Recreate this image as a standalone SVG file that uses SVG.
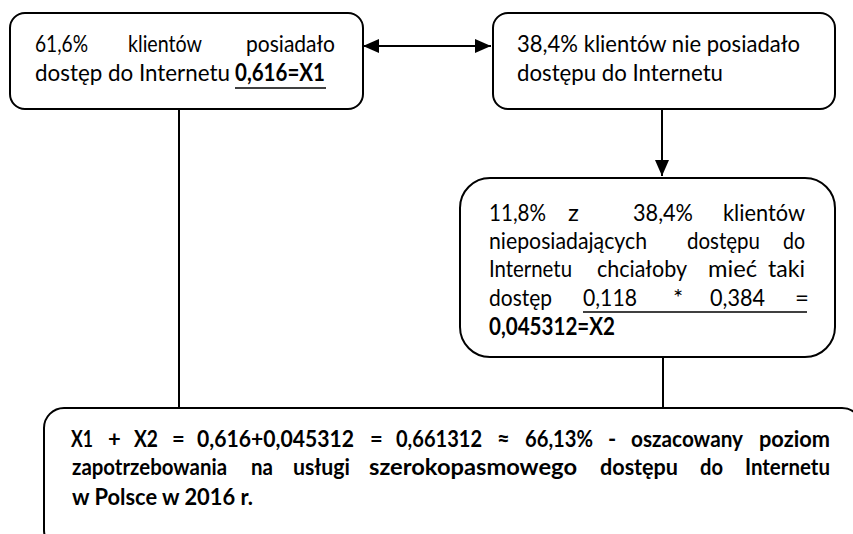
<svg xmlns="http://www.w3.org/2000/svg" width="853" height="534" viewBox="0 0 853 534">
<defs>
<style>
.box{fill:#fff;stroke:#000;stroke-width:2}
.t{font-family:Lato,"Liberation Sans",sans-serif;font-size:24px;fill:#000}
.b{font-family:Lato,"Liberation Sans",sans-serif;font-size:24px;font-weight:bold;fill:#000}
.bb{font-family:Lato,"Liberation Sans",sans-serif;font-size:22px;font-weight:bold;fill:#000}
.c{stroke:#000;stroke-width:2;fill:none}
.u{stroke:#000;stroke-width:1.6}
</style>
<marker id="ah" viewBox="0 0 16 14" refX="16" refY="7" markerWidth="16" markerHeight="14" markerUnits="userSpaceOnUse" orient="auto-start-reverse">
<path d="M0,0 L16,7 L0,14 Z" fill="#000"/>
</marker>
</defs>
<rect width="853" height="534" fill="#fff"/>
<g id="connectors">
<line class="c" x1="363" y1="46" x2="491" y2="46" marker-start="url(#ah)" marker-end="url(#ah)"/>
<line class="c" x1="662" y1="109" x2="662" y2="176" marker-end="url(#ah)"/>
<line class="c" x1="179" y1="109" x2="179" y2="408"/>
<line class="c" x1="663" y1="357" x2="663" y2="408"/>
</g>
<g id="node1">
<rect class="box" x="10" y="13" width="353" height="96" rx="15"/>
<text class="t" x="35" y="52" textLength="53" lengthAdjust="spacingAndGlyphs">61,6%</text>
<text class="t" x="128" y="52" textLength="74" lengthAdjust="spacingAndGlyphs">klientów</text>
<text class="t" x="246" y="52" textLength="89" lengthAdjust="spacingAndGlyphs">posiadało</text>
<text class="t" x="35" y="81" textLength="195" lengthAdjust="spacingAndGlyphs">dostęp do Internetu</text>
<text class="b" x="235" y="81" textLength="90" lengthAdjust="spacingAndGlyphs">0,616=X1</text>
<line class="u" x1="235" y1="88" x2="326" y2="88"/>
</g>
<g id="node2">
<rect class="box" x="493" y="13" width="342" height="96" rx="15"/>
<text class="t" x="517" y="52" textLength="283" lengthAdjust="spacingAndGlyphs">38,4% klientów nie posiadało</text>
<text class="t" x="517" y="81" textLength="206" lengthAdjust="spacingAndGlyphs">dostępu do Internetu</text>
</g>
<g id="node3">
<rect class="box" x="460" y="178" width="375" height="179" rx="30"/>
<text class="t" x="489" y="221" textLength="57" lengthAdjust="spacingAndGlyphs">11,8%</text>
<text class="t" x="568" y="221">z</text>
<text class="t" x="633" y="221" textLength="60" lengthAdjust="spacingAndGlyphs">38,4%</text>
<text class="t" x="723" y="221" textLength="82" lengthAdjust="spacingAndGlyphs">klientów</text>
<text class="t" x="489" y="249" textLength="158" lengthAdjust="spacingAndGlyphs">nieposiadających</text>
<text class="t" x="687" y="249" textLength="73" lengthAdjust="spacingAndGlyphs">dostępu</text>
<text class="t" x="783" y="249" textLength="22" lengthAdjust="spacingAndGlyphs">do</text>
<text class="t" x="489" y="277" textLength="83" lengthAdjust="spacingAndGlyphs">Internetu</text>
<text class="t" x="597" y="277" textLength="90" lengthAdjust="spacingAndGlyphs">chciałoby</text>
<text class="t" x="708" y="277" textLength="49" lengthAdjust="spacingAndGlyphs">mieć</text>
<text class="t" x="768" y="277" textLength="37" lengthAdjust="spacingAndGlyphs">taki</text>
<text class="t" x="489" y="306" textLength="63" lengthAdjust="spacingAndGlyphs">dostęp</text>
<text class="t" x="583" y="306" textLength="54" lengthAdjust="spacingAndGlyphs">0,118</text>
<text class="t" x="673" y="306">*</text>
<text class="t" x="710" y="306" textLength="55" lengthAdjust="spacingAndGlyphs">0,384</text>
<text class="t" x="795" y="306">=</text>
<line class="u" x1="583" y1="312" x2="807" y2="312"/>
<text class="b" x="489" y="335" textLength="126" lengthAdjust="spacingAndGlyphs">0,045312=X2</text>
</g>
<g id="node4">
<rect class="box" x="44" y="408" width="818" height="142" rx="20"/>
<text class="bb" x="71" y="447" textLength="22" lengthAdjust="spacingAndGlyphs">X1</text>
<text class="bb" x="108" y="447">+</text>
<text class="bb" x="134" y="447" textLength="24" lengthAdjust="spacingAndGlyphs">X2</text>
<text class="bb" x="172" y="447">=</text>
<text class="bb" x="197" y="447" textLength="157" lengthAdjust="spacingAndGlyphs">0,616+0,045312</text>
<text class="bb" x="370" y="447">=</text>
<text class="bb" x="396" y="447" textLength="86" lengthAdjust="spacingAndGlyphs">0,661312</text>
<text class="bb" x="497" y="447">≈</text>
<text class="bb" x="525" y="447" textLength="68" lengthAdjust="spacingAndGlyphs">66,13%</text>
<text class="bb" x="608" y="447">-</text>
<text class="bb" x="631" y="447" textLength="112" lengthAdjust="spacingAndGlyphs">oszacowany</text>
<text class="bb" x="759" y="447" textLength="71" lengthAdjust="spacingAndGlyphs">poziom</text>
<text class="bb" x="72" y="475" textLength="155" lengthAdjust="spacingAndGlyphs">zapotrzebowania</text>
<text class="bb" x="251" y="475" textLength="22" lengthAdjust="spacingAndGlyphs">na</text>
<text class="bb" x="293" y="475" textLength="57" lengthAdjust="spacingAndGlyphs">usługi</text>
<text class="bb" x="369" y="475" textLength="208" lengthAdjust="spacingAndGlyphs">szerokopasmowego</text>
<text class="bb" x="600" y="475" textLength="78" lengthAdjust="spacingAndGlyphs">dostępu</text>
<text class="bb" x="700" y="475" textLength="23" lengthAdjust="spacingAndGlyphs">do</text>
<text class="bb" x="745" y="475" textLength="85" lengthAdjust="spacingAndGlyphs">Internetu</text>
<text class="bb" x="72" y="505" textLength="181" lengthAdjust="spacingAndGlyphs">w Polsce w 2016 r.</text>
</g>
</svg>
